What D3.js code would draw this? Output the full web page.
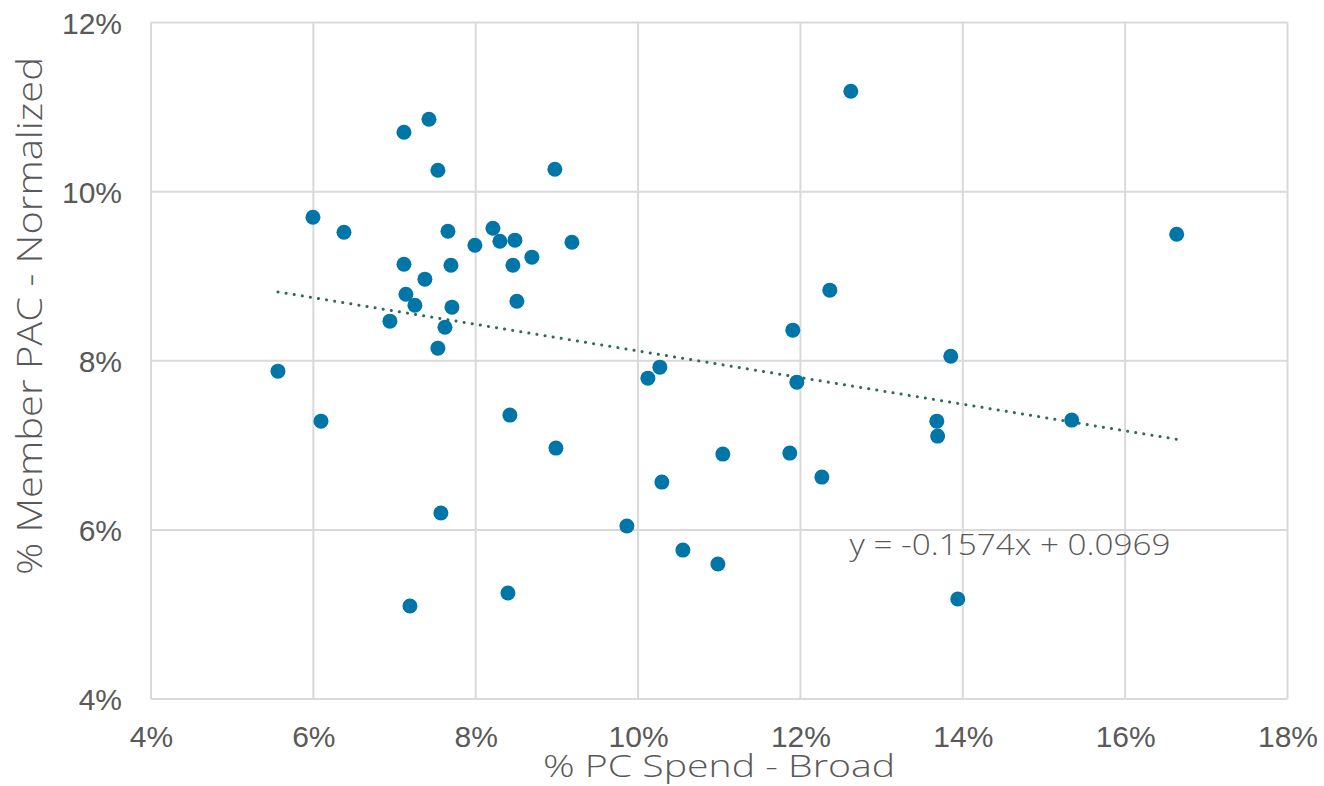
<!DOCTYPE html>
<html><head><meta charset="utf-8">
<script src="https://cdn.jsdelivr.net/npm/d3@7"></script>
<style>body{margin:0;background:#fff}svg{display:block}</style>
</head><body>
<svg id="c" width="1324" height="786"></svg>
<script>
const xVals=[5.564,5.995,6.094,6.377,6.943,7.116,7.116,7.140,7.19,7.251,7.374,7.424,7.534,7.534,7.571,7.621,7.658,7.695,7.707,7.99,8.212,8.298,8.397,8.421,8.458,8.483,8.507,8.692,8.975,8.988,9.185,9.862,10.121,10.268,10.293,10.552,10.983,11.044,11.869,11.906,11.956,12.264,12.362,12.621,13.680,13.69,13.852,13.938,15.342,16.635];
const yVals=[7.877,9.697,7.286,9.520,8.468,10.702,9.142,8.787,5.099,8.657,8.965,10.856,10.253,8.149,6.199,8.397,9.532,9.130,8.634,9.366,9.567,9.414,5.253,7.357,9.130,9.426,8.704,9.225,10.265,6.967,9.402,6.045,7.794,7.924,6.565,5.761,5.596,6.896,6.908,8.362,7.747,6.624,8.835,11.187,7.286,7.109,8.054,5.182,7.298,9.496];
const xTicks=[0.04,0.06,0.08,0.10,0.12,0.14,0.16,0.18];
const yTicks=[0.04,0.06,0.08,0.10,0.12];
const slope=-0.1574, intercept=0.0969;
const eqLabel="y = -0.1574x + 0.0969";
const xTitle="% PC Spend - Broad";
const yTitle="% Member PAC - Normalized";

const svg=d3.select("#c");
const x=d3.scaleLinear().domain([0.04,0.18]).range([151,1287.5]);
const y=d3.scaleLinear().domain([0.04,0.12]).range([699,22.5]);
const fmt=d=>Math.round(d*100)+"%";
const grid="#d9d9d9";

// grid
svg.append("g").selectAll("line").data(xTicks).join("line")
 .attr("x1",d=>x(d)).attr("x2",d=>x(d)).attr("y1",y(0.12)).attr("y2",y(0.04))
 .attr("stroke",grid).attr("stroke-width",2);
svg.append("g").selectAll("line").data(yTicks).join("line")
 .attr("y1",d=>y(d)).attr("y2",d=>y(d)).attr("x1",x(0.04)).attr("x2",x(0.18))
 .attr("stroke",grid).attr("stroke-width",2);

// axes labels via d3 axes
const xa=svg.append("g").attr("transform",`translate(0,${y(0.04)})`)
 .call(d3.axisBottom(x).tickValues(xTicks).tickFormat(fmt).tickSize(0).tickPadding(48));
const ya=svg.append("g").attr("transform",`translate(${x(0.04)},0)`)
 .call(d3.axisLeft(y).tickValues(yTicks).tickFormat(fmt).tickSize(0).tickPadding(29));
[xa,ya].forEach(g=>{g.select(".domain").remove();
 g.selectAll("text").attr("fill","#595959").style("font-family","'Liberation Sans',Arial,sans-serif").style("font-size","30px");});
xa.selectAll("text").attr("dy",0);
ya.selectAll("text").attr("dy","0.36em");

// trend line
const x0=d3.min(xVals)/100, x1=d3.max(xVals)/100;
svg.append("line").attr("x1",x(x0)).attr("y1",y(slope*x0+intercept))
 .attr("x2",x(x1)).attr("y2",y(slope*x1+intercept))
 .attr("stroke","#2f6b58").attr("stroke-width",3).attr("stroke-linecap","round")
 .attr("stroke-dasharray","0.1 8.1");

// points
svg.append("g").selectAll("circle").data(xVals.map((v,i)=>[v/100,yVals[i]/100])).join("circle")
 .attr("cx",d=>x(d[0])).attr("cy",d=>y(d[1])).attr("r",7.5).attr("fill","#0076a8");

const tf="'Open Sans','Noto Sans',sans-serif";
svg.append("text").attr("x",849.5).attr("y",555).text(eqLabel)
 .attr("fill","#595959").style("font-family",tf).style("font-weight",300).style("font-size","30px")
 .attr("textLength",321).attr("lengthAdjust","spacingAndGlyphs");
svg.append("text").attr("x",719).attr("y",777).attr("text-anchor","middle").text(xTitle)
 .attr("fill","#595959").style("font-family",tf).style("font-weight",300).style("font-size","32px")
 .attr("textLength",352).attr("lengthAdjust","spacingAndGlyphs");
svg.append("text").attr("transform","translate(42,316) rotate(-90)").attr("text-anchor","middle").text(yTitle)
 .attr("fill","#595959").style("font-family",tf).style("font-weight",300).style("font-size","35px")
 .attr("textLength",518).attr("lengthAdjust","spacingAndGlyphs");
</script>
</body></html>
